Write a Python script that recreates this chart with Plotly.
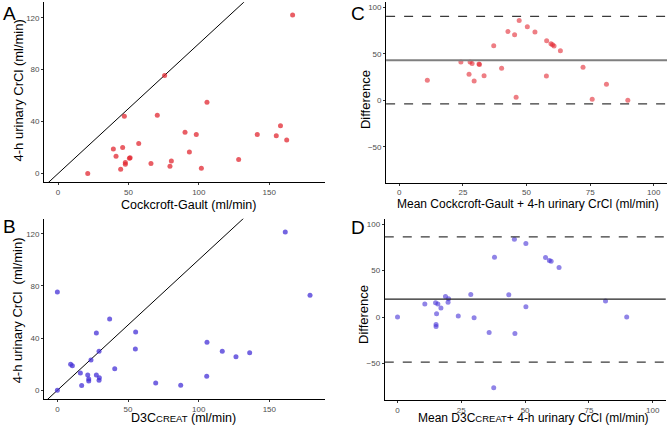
import plotly.graph_objects as go

# A: Cockcroft-Gault vs 4-h urinary CrCl
a_x = [166.6, 75.7, 105.8, 47.1, 70.5, 90.2, 98.2, 93.3, 57.3, 45.9, 39.3, 41.2, 50.7, 51.2,
       47.8, 47.8, 44.5, 21.1, 66.0, 80.5, 79.5, 101.8, 128.3, 141.5, 155.0, 158.0, 162.4]
a_y = [122.0, 75.6, 54.9, 44.1, 44.9, 31.8, 30.0, 16.7, 23.1, 20.0, 19.0, 13.3, 11.8, 12.2,
       8.5, 7.2, 3.3, 0.0, 7.7, 9.7, 5.6, 4.1, 10.8, 30.0, 29.2, 36.9, 25.9]

# B: D3Ccreat vs 4-h urinary CrCl
b_x = [161.3, 178.8, 0.0, 37.0, 55.4, 27.6, 55.2, 105.9, 116.7, 126.4, 136.1, 29.5, 23.8, 9.4,
       10.6, 16.3, 40.6, 21.5, 27.6, 29.7, 22.2, 22.2, 29.5, 17.2, 0.0, 69.6, 87.3, 105.7]
b_y = [121.3, 72.8, 75.3, 54.6, 44.7, 43.9, 31.7, 36.8, 29.9, 25.8, 28.8, 29.9, 23.2, 19.9,
       18.9, 13.3, 16.6, 11.7, 11.7, 9.7, 8.7, 7.1, 7.7, 3.6, 0.0, 5.6, 3.8, 10.7]

# C: Bland-Altman, Cockcroft-Gault
c_x = [11.0, 24.2, 27.8, 28.6, 27.4, 29.4, 31.3, 31.5, 33.3, 37.1, 40.2, 42.7, 45.3, 47.1,
       45.9, 50.3, 53.3, 57.9, 59.6, 60.2, 60.8, 63.3, 57.8, 72.2, 75.8, 81.4, 89.8]
c_y = [21.4, 41.1, 41.1, 39.6, 27.9, 20.7, 38.9, 38.5, 26.4, 58.6, 34.3, 73.9, 70.4, 85.7,
       3.2, 78.9, 73.2, 63.9, 60.7, 59.6, 58.2, 53.2, 26.1, 35.4, 1.1, 17.1, 0.0]
c_mean, c_lo, c_hi = 42.9, -3.9, 90.0

# D: Bland-Altman, D3Ccreat
d_x = [0.0, 10.7, 14.9, 15.8, 15.3, 15.1, 15.1, 17.0, 18.8, 20.0, 19.8, 23.8, 28.7, 30.0,
       35.9, 38.0, 37.7, 43.6, 45.8, 46.0, 50.3, 50.3, 58.0, 59.5, 60.2, 63.3, 81.5, 89.8]
d_y = [0.0, 14.0, 15.4, 14.0, 3.6, -7.9, -10.0, 9.7, 22.2, 19.7, 16.1, 1.1, 24.3, -0.7,
       -16.5, 64.4, -75.9, 24.0, 83.8, -17.5, 79.1, 11.1, 64.1, 60.8, 60.1, 53.3, 17.2, 0.0]
d_mean, d_lo, d_hi = 19.3, -48.3, 86.3

red = "rgba(226,40,50,0.75)"
blue = "rgba(70,50,215,0.75)"
font = "Liberation Sans, Arial, sans-serif"

fig = go.Figure()

# scatter panels with identity line
fig.add_trace(go.Scatter(x=[-20, 150], y=[-20, 150], mode="lines",
                         line=dict(color="black", width=1), xaxis="x", yaxis="y"))
fig.add_trace(go.Scatter(x=a_x, y=a_y, mode="markers",
                         marker=dict(color=red, size=5), xaxis="x", yaxis="y"))
fig.add_trace(go.Scatter(x=[-20, 150], y=[-20, 150], mode="lines",
                         line=dict(color="black", width=1), xaxis="x2", yaxis="y2"))
fig.add_trace(go.Scatter(x=b_x, y=b_y, mode="markers",
                         marker=dict(color=blue, size=5), xaxis="x2", yaxis="y2"))

# bland-altman panels
fig.add_trace(go.Scatter(x=c_x, y=c_y, mode="markers",
                         marker=dict(color="rgba(226,40,50,0.6)", size=5), xaxis="x3", yaxis="y3"))
fig.add_trace(go.Scatter(x=d_x, y=d_y, mode="markers",
                         marker=dict(color="rgba(70,50,215,0.6)", size=5), xaxis="x4", yaxis="y4"))

for ax, m, lo, hi, mcol, mw in [("3", c_mean, c_lo, c_hi, "#7f7f7f", 2),
                                 ("4", d_mean, d_lo, d_hi, "#222222", 1.1)]:
    fig.add_shape(type="line", xref="x%s domain" % ax, yref="y" + ax, x0=0, x1=1, y0=m, y1=m,
                  line=dict(color=mcol, width=mw))
    for v in (lo, hi):
        fig.add_shape(type="line", xref="x%s domain" % ax, yref="y" + ax, x0=0, x1=1, y0=v, y1=v,
                      line=dict(color="#3a3a3a", width=1.2, dash="dash"))

axis_common = dict(showgrid=False, zeroline=False, showline=True, linecolor="black", linewidth=1,
                   ticks="outside", ticklen=2, tickcolor="#333333", automargin=False,
                   tickfont=dict(size=8, color="#4d4d4d", family=font))

fig.update_layout(
    template="none",
    width=668, height=425,
    margin=dict(l=0, r=0, t=0, b=0),
    paper_bgcolor="white", plot_bgcolor="white",
    showlegend=False,
    font=dict(family=font),
    xaxis=dict(domain=[0.066, 0.4865], range=[-9.9, 189.6], tickvals=[0, 50, 100, 150],
               anchor="y", **axis_common),
    yaxis=dict(domain=[0.572, 0.995], range=[-6.4, 132], tickvals=[0, 40, 80, 120],
               anchor="x", **axis_common),
    xaxis2=dict(domain=[0.066, 0.4865], range=[-9.4, 189.4], tickvals=[0, 50, 100, 150],
                anchor="y2", **axis_common),
    yaxis2=dict(domain=[0.0605, 0.4854], range=[-6.9, 131.5], tickvals=[0, 40, 80, 120],
                anchor="x2", **axis_common),
    xaxis3=dict(domain=[0.578, 0.9985], range=[-5.2, 105.2], tickvals=[0, 25, 50, 75, 100],
                anchor="y3", **axis_common),
    yaxis3=dict(domain=[0.570, 0.995], range=[-88.6, 105.4], tickvals=[-50, 0, 50, 100],
                anchor="x3", **axis_common),
    xaxis4=dict(domain=[0.576, 0.9966], range=[-5.0, 105.1], tickvals=[0, 25, 50, 75, 100],
                anchor="y4", **axis_common),
    yaxis4=dict(domain=[0.058, 0.485], range=[-89.5, 105.6], tickvals=[-50, 0, 50, 100],
                anchor="x4", **axis_common),
)

# axis titles as annotations, so they sit where the reference puts them
small = "<span style='font-size:9.5px'>CREAT</span>"
titles = [
    ("Cockcroft-Gault (ml/min)", 0.2817, 0.5176, 0, 12.5),
    ("D3C" + small + " (ml/min)", 0.275, 0.0165, 0, 12.5),
    ("Mean Cockcroft-Gault + 4-h urinary CrCl (ml/min)", 0.791, 0.520, 0, 12),
    ("Mean D3C" + small + "+ 4-h urinary CrCl (ml/min)", 0.798, 0.0165, 0, 12),
    ("4-h urinary CrCl (ml/min)", 0.0275, 0.788, -90, 13),
    ("4-h urinary CrCl  (ml/min)", 0.0275, 0.2706, -90, 13),
    ("Difference", 0.5474, 0.766, -90, 13),
    ("Difference", 0.545, 0.259, -90, 13),
]
for text, x, y, ang, size in titles:
    fig.add_annotation(text=text, xref="paper", yref="paper", x=x, y=y, xanchor="center",
                       yanchor="middle", textangle=ang, showarrow=False,
                       font=dict(size=size, color="black", family=font))

for letter, x, y in [("A", 0.002, 0.998), ("B", 0.002, 0.4965), ("C", 0.523, 0.998), ("D", 0.523, 0.494)]:
    fig.add_annotation(text=letter, xref="paper", yref="paper", x=x, y=y, xanchor="left", yanchor="top",
                       showarrow=False, font=dict(size=19, color="black", family=font))

# page body has an 8px default margin; drop it so the figure fills the window
fig.write_html("out.html", config={"displayModeBar": False},
               post_script="document.body.style.margin='0';")
